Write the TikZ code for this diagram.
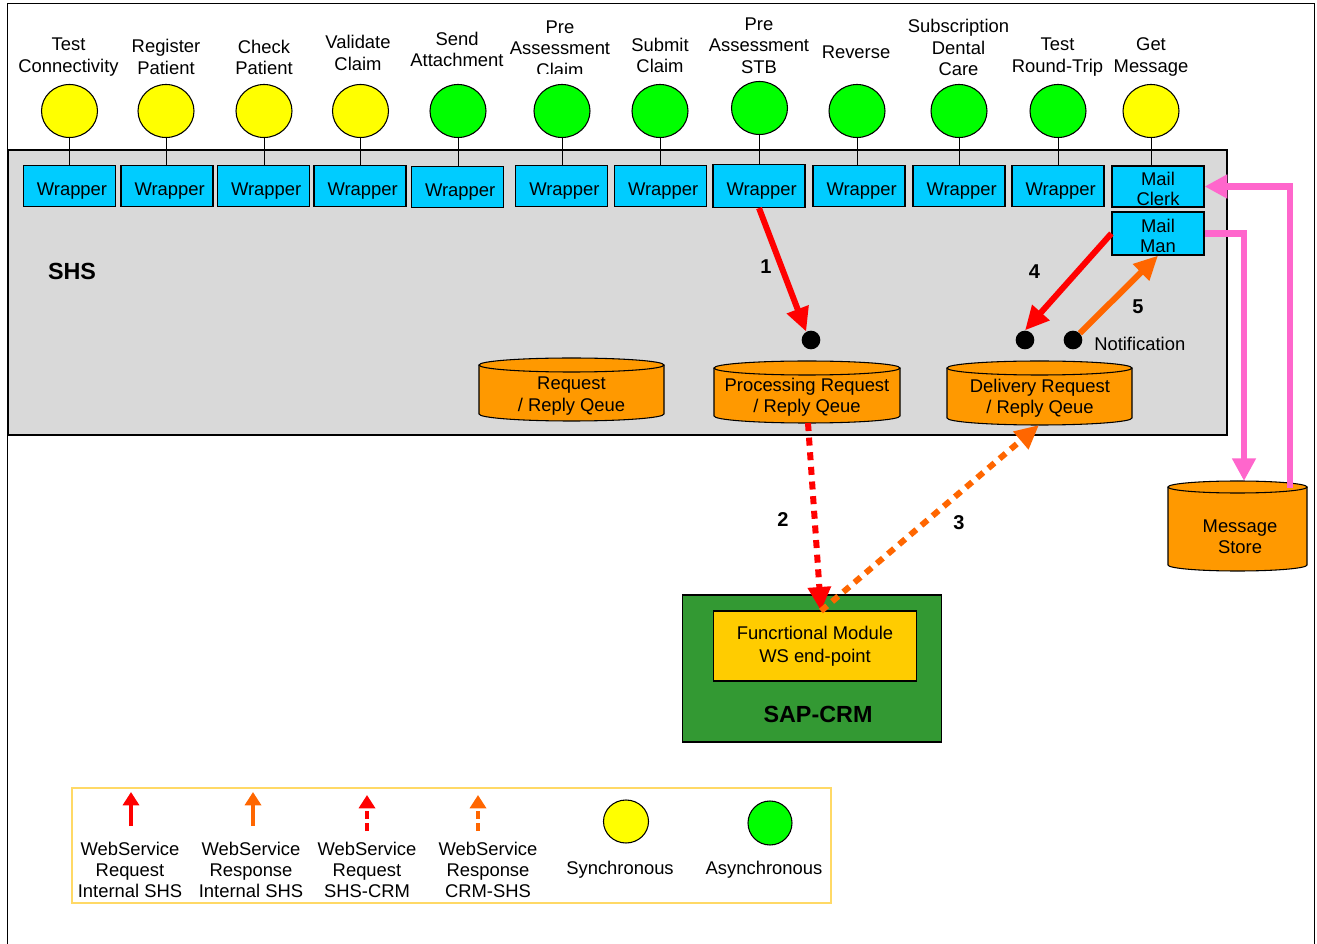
\documentclass[tikz,border=0pt]{standalone}
\usepackage{fontspec}
\setmainfont{Liberation Sans}
\usetikzlibrary{arrows.meta,shapes.geometric,calc}
\definecolor{shsgray}{HTML}{D9D9D9}
\definecolor{wrapcyan}{HTML}{00CCFF}
\definecolor{syncyellow}{HTML}{FFFF00}
\definecolor{asyncgreen}{HTML}{00FF00}
\definecolor{qorange}{HTML}{FF9900}
\definecolor{resporange}{HTML}{FF6600}
\definecolor{reqred}{HTML}{FF0000}
\definecolor{sapgreen}{HTML}{339933}
\definecolor{fmyellow}{HTML}{FFCC00}
\definecolor{msgpink}{HTML}{FF66CC}
\definecolor{legendborder}{HTML}{FFD966}
\newcommand\qcyl[5]{%
  \pgfmathsetmacro\cxc{(#1+#2)/2}%
  \pgfmathsetmacro\crx{(#2-#1)/2}%
  \pgfmathsetmacro\ck{0.5523*\crx}%
  \pgfmathsetmacro\cky{0.5523*#5}%
  \pgfmathsetmacro\cyb{#4+#5}%
  \filldraw[cylstyle] (#1,#3) -- (#1,#4) .. controls (#1,#4+\cky) and (\cxc-\ck,\cyb) .. (\cxc,\cyb) .. controls (\cxc+\ck,\cyb) and (#2,#4+\cky) .. (#2,#4) -- (#2,#3);
  \filldraw[cylstyle] (\cxc,#3) ellipse [x radius=\crx, y radius=#5];
}
\begin{document}
\begin{tikzpicture}[x=0.75pt,y=-0.75pt,
  font=\fontsize{13.8}{16}\selectfont,
  cylstyle/.style={draw=black, fill=qorange, line width=0.8pt},
  wrapbox/.style={draw=black, fill=wrapcyan, minimum width=69pt, minimum height=30.75pt, inner sep=0pt, line width=0.9pt, text height=14pt, text depth=0pt, xshift=0pt},
  mailbox/.style={draw=black, fill=wrapcyan, minimum width=69pt, minimum height=30.75pt, inner sep=0pt, line width=0.9pt, align=center, font=\fontsize{13.8}{15}\selectfont},
  svc/.style={ellipse, draw=black, line width=0.8pt, minimum width=42pt, minimum height=39.75pt, inner sep=0pt},
  sync/.style={svc, fill=syncyellow},
  async/.style={svc, fill=asyncgreen},
  lbl/.style={align=center, inner sep=0pt},
  num/.style={font=\fontsize{15}{17}\selectfont\bfseries, inner sep=0pt},
  stem/.style={draw=black, line width=0.6pt},
  dotnode/.style={circle, fill=black, minimum size=14pt, inner sep=0pt},
  reqarrow/.style={draw=reqred, line width=4.5pt, -{Triangle[length=18pt,width=16.5pt]}},
  resparrow/.style={draw=resporange, line width=4.5pt, -{Triangle[length=18pt,width=16.5pt]}},
  reqdot/.style={reqarrow, dash pattern=on 6pt off 5pt},
  respdot/.style={resparrow, dash pattern=on 6pt off 5pt},
  pinkarrow/.style={draw=msgpink, line width=4.9pt, -{Triangle[length=17pt,width=17pt]}},
  legreq/.style={draw=reqred, line width=3pt, -{Triangle[length=10pt,width=12pt]}},
  legresp/.style={draw=resporange, line width=3pt, -{Triangle[length=10pt,width=12pt]}},
  legdash/.style={dash pattern=on 6pt off 3pt}
]
\useasboundingbox (0,0) rectangle (1317,944);
% outer frame
\draw[line width=1pt] (7.5,944) -- (7.5,3.5) -- (1314.5,3.5) -- (1314.5,944);
% SHS area
\draw[fill=shsgray, line width=1.5pt] (7.5,150.5) rectangle (1227,435);
\node[font=\fontsize{17.5}{20}\selectfont\bfseries, inner sep=0pt] (shs) at (72,271) {SHS};

% service labels
\node[lbl] (t1) at (68.5,57) {Test\\Connectivity};
\node[lbl] (t2) at (166,57) {Register\\Patient};
\node[lbl] (t3) at (264,57.5) {Check\\Patient};
\node[lbl] (t4) at (358,53) {Validate\\Claim};
\node[lbl] (t5) at (457,49.5) {Send\\Attachment};
\begin{scope}
  \clip (500,0) rectangle (625,73.5);
  \node[lbl] (t6) at (560,48.5) {Pre\\Assessment\\Claim};
\end{scope}
\node[lbl] (t7) at (660,55.5) {Submit\\Claim};
\node[lbl] (t8) at (759,45.5) {Pre\\Assessment\\STB};
\node[lbl] (t9) at (856,52) {Reverse};
\node[lbl] (t10) at (958.5,47.5) {Subscription\\Dental\\Care};
\node[lbl] (t11) at (1057.5,57) {Test\\Round-Trip};
\node[lbl] (t12) at (1151,57) {Get\\Message};

% service circles
\node[sync] (c1) at (69.5,111) {};
\node[sync] (c2) at (166,111) {};
\node[sync] (c3) at (264,111) {};
\node[sync] (c4) at (360.5,111) {};
\node[async] (c5) at (458,111) {};
\node[async] (c6) at (562,111) {};
\node[async] (c7) at (660,111) {};
\node[async] (c8) at (759.5,108) {};
\node[async] (c9) at (857,111) {};
\node[async] (c10) at (959,111) {};
\node[async] (c11) at (1058,111) {};
\node[sync] (c12) at (1151,111) {};

% wrappers
\node[wrapbox] (w1) at (69.3,186.3) {\hspace{4pt}Wrapper};
\node[wrapbox] (w2) at (167,186.3) {\hspace{4pt}Wrapper};
\node[wrapbox] (w3) at (263.5,186.3) {\hspace{4pt}Wrapper};
\node[wrapbox] (w4) at (360,186.3) {\hspace{4pt}Wrapper};
\node[wrapbox] (w5) at (457.5,186.8) {\hspace{4pt}Wrapper};
\node[wrapbox] (w6) at (561.7,186.3) {\hspace{4pt}Wrapper};
\node[wrapbox] (w7) at (660.5,186.3) {\hspace{4pt}Wrapper};
\node[wrapbox, minimum height=32.25pt] (w8) at (759,186) {\hspace{4pt}Wrapper};
\node[wrapbox] (w9) at (859,186.3) {\hspace{4pt}Wrapper};
\node[wrapbox] (w10) at (959,186.3) {\hspace{4pt}Wrapper};
\node[wrapbox] (w11) at (1058,186.3) {\hspace{4pt}Wrapper};
\node[mailbox] (mc) at (1158,186.5) {\rule{0pt}{13pt}Mail\\Clerk};
\node[mailbox, minimum height=32.25pt] (mm) at (1158,233.5) {\rule{0pt}{13pt}Mail\\Man};

% stems
\foreach \i in {1,...,11} {
  \draw[stem] (c\i.south) -- (c\i.south |- w\i.north);
}
\draw[stem] (c12.south) -- (c12.south |- mc.north);

% queues
\qcyl{479}{664}{365}{414}{7}
\node[lbl] (rq) at (571.5,396) {Request\\/ Reply Qeue};
\qcyl{714}{900}{368}{416}{7}
\node[lbl] (pq) at (807,397) {Processing Request\\/ Reply Qeue};
\qcyl{947}{1132}{368}{418}{7}
\node[lbl] (dq) at (1040,398.5) {Delivery Request\\/ Reply Qeue};
\qcyl{1168}{1307}{487}{565}{6}
\node[lbl] (ms) at (1240,536.5) {Message\\Store};

\coordinate (pqb) at (808,423);
\coordinate (dqb) at (1039,425);
\coordinate (fmtop) at (821,611);
\coordinate (mstl) at (1244,481);
\coordinate (mstr) at (1290,488);

% dots
\node[dotnode] (d1) at (811,340) {};
\node[dotnode] (d2) at (1025,340) {};
\node[dotnode] (d3) at (1073,340) {};
\node[anchor=west, inner sep=0pt] (notif) at (1094,344) {Notification};

% SAP-CRM
\node[draw=black, fill=sapgreen, line width=1.3pt, minimum width=194.25pt, minimum height=110.25pt] (sap) at (812,668.5) {};
\node[draw=black, fill=fmyellow, line width=1.2pt, minimum width=152.25pt, minimum height=52.5pt, align=center, inner sep=0pt, font=\fontsize{13.8}{17}\selectfont] (fm) at (815,646) {Funcrtional Module\\WS end-point};
\node[font=\fontsize{17.5}{20}\selectfont\bfseries, inner sep=0pt] (saplbl) at (818,714) {SAP-CRM};

% flow arrows
\draw[reqarrow] (w8.south) -- (d1.120);
\draw[reqarrow] (mm.west) -- (d2.north);
\draw[resparrow] (d3.north east) -- (mm.south);
\draw[reqdot] (pqb) -- (fmtop);
\draw[respdot] (fmtop) -- (dqb);
\draw[pinkarrow] (mm.east) -| (mstl);
\draw[pinkarrow] (mstr) |- (mc.east);

\node[num] (n1) at (766,267) {1};
\node[num] (n2) at (783,520) {2};
\node[num] (n3) at (959,523) {3};
\node[num] (n4) at (1034.5,272) {4};
\node[num] (n5) at (1138,307) {5};

% legend
\node[draw=legendborder, line width=1pt, minimum width=569.25pt, minimum height=86.25pt, inner sep=0pt] (legend) at (451.5,845.5) {};
\coordinate (l1s) at (131,826); \coordinate (l1e) at (131,792);
\coordinate (l2s) at (253,826); \coordinate (l2e) at (253,792);
\coordinate (l3s) at (367,831); \coordinate (l3e) at (367,795);
\coordinate (l4s) at (478,831); \coordinate (l4e) at (478,795);
\draw[legreq] (l1s) -- (l1e);
\draw[legresp] (l2s) -- (l2e);
\draw[legreq, legdash] (l3s) -- (l3e);
\draw[legresp, legdash] (l4s) -- (l4e);
\node[sync, minimum width=33.75pt, minimum height=32.25pt] (lsync) at (626,821.5) {};
\node[async, minimum width=33pt, minimum height=33pt] (lasync) at (770,823) {};
\node[lbl] (lt1) at (130,870) {WebService\\Request\\Internal SHS};
\node[lbl] (lt2) at (251,870) {WebService\\Response\\Internal SHS};
\node[lbl] (lt3) at (367,870) {WebService\\Request\\SHS-CRM};
\node[lbl] (lt4) at (488,870) {WebService\\Response\\CRM-SHS};
\node[lbl] (lt5) at (620,870) {Synchronous};
\node[lbl] (lt6) at (764,870) {Asynchronous};
\end{tikzpicture}
\end{document}
